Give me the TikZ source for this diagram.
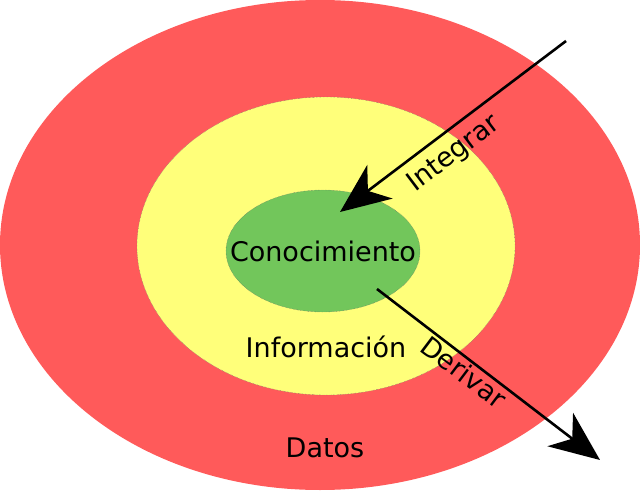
\documentclass[tikz,border=0pt]{standalone}
\usepackage{fontspec}
\setmainfont{DejaVu Sans}
\usetikzlibrary{shapes.geometric,arrows.meta,positioning}
\definecolor{rojo}{HTML}{FF5A5A}
\definecolor{amarillo}{HTML}{FFFF7A}
\definecolor{verde}{HTML}{72C65B}
\begin{document}
\begin{tikzpicture}[x=1pt,y=-1pt,
    capa/.style={ellipse, inner sep=0pt, draw=black!60, densely dotted, line width=0.4pt},
    etiqueta/.style={font=\fontsize{27}{31}\selectfont},
    flecha/.style={line width=2.6pt, -{Stealth[length=50pt,width=42pt,inset=15pt]}}
]
    \useasboundingbox (0,0) rectangle (640,492);
    \node[capa, fill=rojo, draw=none, minimum width=640pt, minimum height=490pt] (datos) at (320,245) {};
    \node[capa, fill=amarillo, minimum width=378pt, minimum height=298pt] (info) at (326,246) {};
    \node[capa, fill=verde, minimum width=194pt, minimum height=122pt] (conoc) at (323,251) {};
    \node[etiqueta] (tconoc) at (323,251) {Conocimiento};
    \node[etiqueta] (tinfo) at (326,347) {Información};
    \node[etiqueta] (tdatos) at (325,448) {Datos};
    % flechas
    \coordinate (ini1) at (566,41);
    \coordinate (fin1) at (340,212);
    \coordinate (ini2) at (377,289);
    \coordinate (fin2) at (600,460);
    \draw[flecha] (ini1) -- (fin1);
    \draw[flecha] (ini2) -- (fin2);
    \node[etiqueta, rotate=37] (tint) at (454,154) {Integrar};
    \node[etiqueta, rotate=-37] (tder) at (464,372) {Derivar};
\end{tikzpicture}
\end{document}
